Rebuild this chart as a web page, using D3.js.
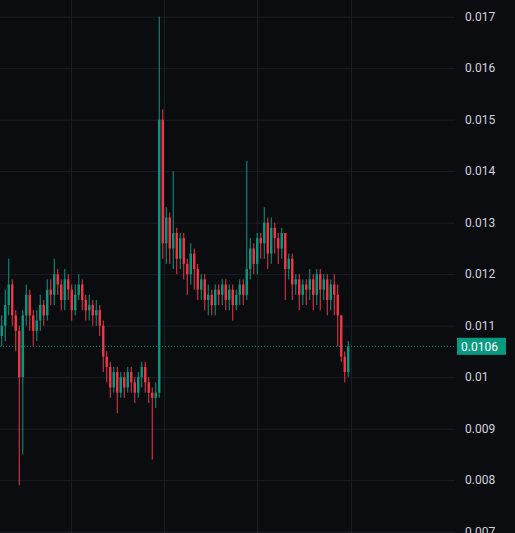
<!DOCTYPE html>
<html>
<head>
<meta charset="utf-8">
<script src="https://cdn.jsdelivr.net/npm/d3@7"></script>
<style>
  body { margin: 0; background: #0b0c10; }
  svg { display: block; }
</style>
</head>
<body>
<svg id="chart"></svg>
<script>
// candle closes, highs, lows (open = previous close)
var firstOpen = 0.0108;
var closes = [0.0110,0.0114,0.0118,0.0112,0.0109,0.0100,0.0112,0.0116,0.0112,0.0109,
  0.0111,0.0114,0.0112,0.0117,0.0116,0.0120,0.0118,0.0115,0.0119,0.0117,
  0.0113,0.0116,0.0118,0.0115,0.0113,0.0114,0.0112,0.0113,0.0110,0.0104,
  0.0102,0.0098,0.0101,0.0097,0.0100,0.0098,0.0101,0.0099,0.0097,0.0100,
  0.0102,0.0099,0.0097,0.0096,0.0097,0.0150,0.0126,0.0131,0.0125,0.0128,
  0.0123,0.0127,0.0122,0.0120,0.0124,0.0121,0.0117,0.0119,0.0115,0.0116,
  0.0114,0.0117,0.0116,0.0118,0.0115,0.0117,0.0114,0.0116,0.0118,0.0116,
  0.0121,0.0125,0.0122,0.0127,0.0126,0.0130,0.0124,0.0129,0.0127,0.0125,
  0.0128,0.0121,0.0123,0.0118,0.0119,0.0116,0.0118,0.0117,0.0119,0.0116,
  0.0120,0.0117,0.0119,0.0115,0.0118,0.0116,0.0112,0.0104,0.0101,0.0106];
var highs = [0.0112,0.0117,0.0123,0.0119,0.0113,0.0110,0.0113,0.0118,0.0117,0.0113,
  0.0113,0.0116,0.0115,0.0119,0.0119,0.0123,0.0121,0.0119,0.0121,0.0120,
  0.0118,0.0118,0.0120,0.0119,0.0116,0.0116,0.0115,0.0115,0.0114,0.0111,
  0.0105,0.0103,0.0102,0.0102,0.0101,0.0101,0.0102,0.0102,0.0100,0.0101,
  0.0103,0.0103,0.0100,0.0098,0.0099,0.0170,0.0152,0.0133,0.0132,0.0140,
  0.0129,0.0128,0.0128,0.0123,0.0126,0.0125,0.0122,0.0120,0.0120,0.0118,
  0.0117,0.0118,0.0118,0.0119,0.0119,0.0118,0.0118,0.0117,0.0119,0.0119,
  0.0142,0.0127,0.0126,0.0128,0.0128,0.0133,0.0131,0.0131,0.0130,0.0128,
  0.0129,0.0128,0.0124,0.0124,0.0120,0.0120,0.0119,0.0119,0.0121,0.0120,
  0.0121,0.0121,0.0120,0.0120,0.0119,0.0120,0.0118,0.0112,0.0105,0.0107];
var lows = [0.0106,0.0107,0.0112,0.0110,0.0105,0.0079,0.0085,0.0110,0.0109,0.0106,
  0.0107,0.0109,0.0110,0.0111,0.0114,0.0114,0.0116,0.0113,0.0113,0.0115,
  0.0111,0.0112,0.0115,0.0113,0.0111,0.0111,0.0110,0.0110,0.0108,0.0101,
  0.0099,0.0096,0.0097,0.0093,0.0096,0.0096,0.0097,0.0097,0.0095,0.0096,
  0.0098,0.0097,0.0095,0.0084,0.0094,0.0096,0.0123,0.0122,0.0122,0.0121,
  0.0120,0.0121,0.0119,0.0116,0.0118,0.0117,0.0115,0.0115,0.0113,0.0112,
  0.0112,0.0112,0.0114,0.0114,0.0113,0.0113,0.0111,0.0113,0.0114,0.0114,
  0.0115,0.0119,0.0120,0.0120,0.0123,0.0123,0.0121,0.0122,0.0124,0.0122,
  0.0123,0.0115,0.0119,0.0115,0.0116,0.0113,0.0114,0.0114,0.0115,0.0113,
  0.0114,0.0113,0.0115,0.0112,0.0113,0.0112,0.0106,0.0103,0.0099,0.0100];
var priceTicks = [0.007,0.008,0.009,0.01,0.011,0.012,0.013,0.014,0.015,0.016,0.017];
var timeGrid = [19.8, 46.4, 73, 99.8]; // candle index of vertical grid lines
var lastPrice = 0.0106;

var W = 515, H = 533, plotW = 455;
var svg = d3.select('#chart').attr("width", W).attr("height", H);

var x = d3.scaleLinear().domain([0, 1]).range([1.75, 5.25]);
var y = d3.scaleLinear().domain([0.007, 0.017]).range([531.7, 16.7]);

//grid
svg.append("g").selectAll("line").data(priceTicks).enter().append("line")
  .attr("x1", 0).attr("x2", plotW)
  .attr("y1", function (d) { return y(d) + 0.5 }).attr("y2", function (d) { return y(d) + 0.5 })
  .attr("stroke", "#1c1e25");
svg.append("g").selectAll("line").data(timeGrid).enter().append("line")
  .attr("y1", 0).attr("y2", H)
  .attr("x1", function (d) { return Math.round(x(d)) + 0.5 }).attr("x2", function (d) { return Math.round(x(d)) + 0.5 })
  .attr("stroke", "#1c1e25");

var candles = closes.map(function (c, i) {
  return { i: i, o: i === 0 ? firstOpen : closes[i - 1], c: c, h: highs[i], l: lows[i] };
});
var col = function (d) { return d.c >= d.o ? "#089981" : "#f23645" };

var g = svg.append("g");
g.selectAll("line.wick").data(candles).enter().append("line")
  .attr("class", "wick")
  .attr("x1", function (d) { return x(d.i) }).attr("x2", function (d) { return x(d.i) })
  .attr("y1", function (d) { return y(d.h) }).attr("y2", function (d) { return y(d.l) })
  .attr("stroke", col).attr("stroke-width", 1);
g.selectAll("rect").data(candles).enter().append("rect")
  .attr("x", function (d) { return x(d.i) - 1.2 })
  .attr("width", 2.4)
  .attr("y", function (d) { return y(Math.max(d.o, d.c)) })
  .attr("height", function (d) { return Math.max(1, Math.abs(y(d.o) - y(d.c))) })
  .attr("fill", col);

// last price line
svg.append("line")
  .attr("x1", 0).attr("x2", plotW)
  .attr("y1", y(lastPrice)).attr("y2", y(lastPrice))
  .attr("stroke", "#089981").attr("stroke-dasharray", "1,2");

// right price axis
svg.append("g").selectAll("text").data(priceTicks).enter().append("text")
  .attr("x", 465).attr("y", function (d) { return y(d) + 4 })
  .attr("fill", "#d1d4dc").attr("font-family", "Roboto, sans-serif").attr("font-size", 12)
  .text(function (d) { return d3.format("")(+d.toFixed(3)) });

svg.append("rect").attr("x", 457).attr("y", y(lastPrice) - 8.5).attr("width", 49).attr("height", 17)
  .attr("fill", "#089981");
svg.append("text").attr("x", 461).attr("y", y(lastPrice) + 4.5)
  .attr("fill", "#ffffff").attr("font-family", "Roboto, sans-serif").attr("font-size", 12)
  .text(lastPrice);
</script>
</body>
</html>
